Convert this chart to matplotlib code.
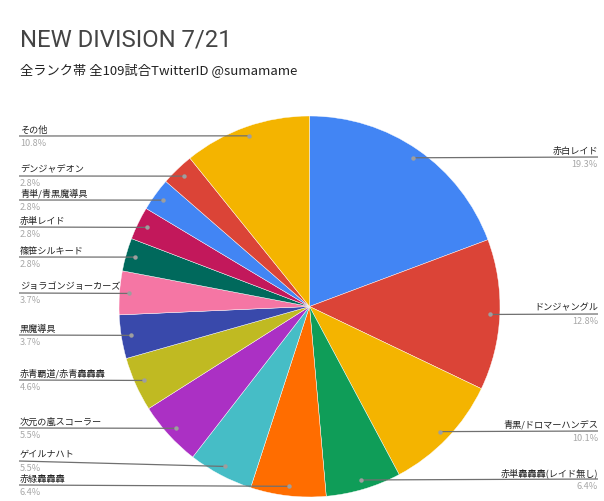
import matplotlib
matplotlib.use("Agg")
import matplotlib.pyplot as plt
import numpy as np

# ---- data ----
categories = ["赤白レイド", "ドンジャングル", "青黒/ドロマーハンデス", "赤単轟轟轟(レイド無し)",
              "赤緑轟轟轟", "ゲイルナハト", "次元の嵐スコーラー", "赤青覇道/赤青轟轟轟",
              "黒魔導具", "ジョラゴンジョーカーズ", "篠笹シルキード", "赤単レイド",
              "青単/青黒魔導具", "デンジャデオン", "その他"]
values = [19.3, 12.8, 10.1, 6.4, 6.4, 5.5, 5.5, 4.6, 3.7, 3.7, 2.8, 2.8, 2.8, 2.8, 10.8]
pct_labels = ["19.3%", "12.8%", "10.1%", "6.4%", "6.4%", "5.5%", "5.5%", "4.6%",
              "3.7%", "3.7%", "2.8%", "2.8%", "2.8%", "2.8%", "10.8%"]
title = "NEW DIVISION 7/21"
subtitle = "全ランク帯 全109試合TwitterID @sumamame"

# ---- style / layout ----
colors = ["#4285F4", "#DB4437", "#F4B400", "#0F9D58", "#FF6D00", "#46BDC6", "#AB30C4",
          "#C0BA22", "#3949AB", "#F576A4", "#00695C", "#C2185B", "#4285F4", "#DB4437", "#F4B400"]
sides = ["R", "R", "R", "R", "L", "L", "L", "L", "L", "L", "L", "L", "L", "L", "L"]
# pixel y (from top) of each leader line's label end
line_y = [157, 314, 431, 479, 485, 461, 428, 380, 335, 293, 257, 227, 200, 176, 136]

W, H = 604, 501
cx, cy_pix, R = 309.5, 306.5, 190.5
jp = ["Noto Sans CJK JP", "DejaVu Sans"]

fig = plt.figure(figsize=(W / 100, H / 100), dpi=100)
ax = fig.add_axes([0, 0, 1, 1])
wedges, _ = ax.pie(values, colors=colors, startangle=90, counterclock=False,
                   center=(cx, H - cy_pix), radius=R,
                   wedgeprops=dict(edgecolor="white", linewidth=0.3))
ax.set_xlim(0, W)
ax.set_ylim(0, H)
ax.set_aspect("equal")
ax.axis("off")

for w, lab, pct, side, ly in zip(wedges, categories, pct_labels, sides, line_y):
    mid = np.deg2rad((w.theta1 + w.theta2) / 2)
    dx = cx + 0.95 * R * np.cos(mid)
    dy = (H - cy_pix) + 0.95 * R * np.sin(mid)
    y = H - ly
    if side == "R":
        ax.plot([dx, 598], [dy, y], color="#707070", lw=0.9, solid_capstyle="butt", zorder=3)
        ax.text(598, y + 6, lab, ha="right", va="center", fontsize=6.6,
                family=jp, color="#222222")
        ax.text(598, y - 7.5, pct, ha="right", va="center", fontsize=6.6,
                family=jp, color="#a8a8a8")
    else:
        ax.plot([19, dx], [y, dy], color="#707070", lw=0.9, solid_capstyle="butt", zorder=3)
        ax.text(20, y + 6, lab, ha="left", va="center", fontsize=6.6,
                family=jp, color="#222222")
        ax.text(20, y - 7.5, pct, ha="left", va="center", fontsize=6.6,
                family=jp, color="#a8a8a8")
    ax.plot([dx], [dy], "o", ms=3.2, color="#9e9e9e", mec="none", zorder=4)

fig.text(20 / W, 1 - 39.5 / H, title, ha="left", va="center", fontsize=17.2,
         family=["Roboto", "DejaVu Sans"], color="#444444")
fig.text(20 / W, 1 - 71 / H, subtitle, ha="left", va="center", fontsize=9.5,
         family=jp, color="#222222")

fig.savefig("out.png", dpi=100, facecolor="white")
